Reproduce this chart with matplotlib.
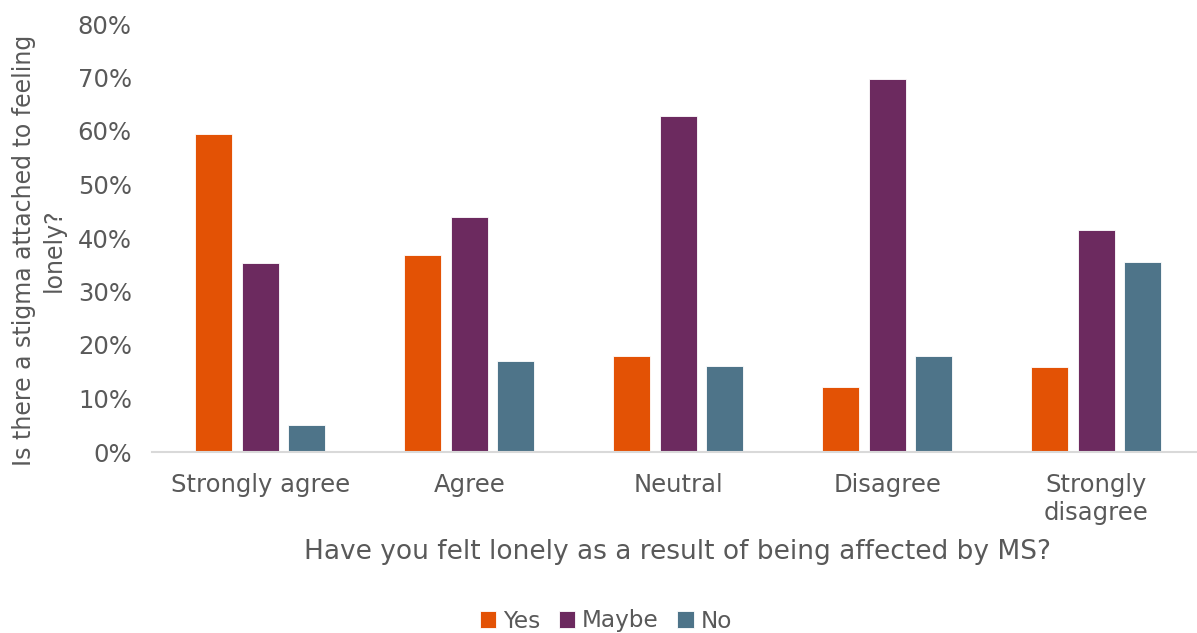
import matplotlib
matplotlib.use("Agg")
import matplotlib.pyplot as plt
import numpy as np

categories = ["Strongly agree", "Agree", "Neutral", "Disagree", "Strongly\ndisagree"]
yes_vals = [59.4, 36.9, 17.9, 12.1, 15.9]
maybe_vals = [35.3, 43.9, 62.8, 69.7, 41.5]
no_vals = [5.0, 17.0, 16.1, 17.9, 35.6]
series_names = ["Yes", "Maybe", "No"]
colors = ["#E35205", "#6C2A5F", "#4E7489"]
yticks = [0, 10, 20, 30, 40, 50, 60, 70, 80]

text_color = "#595959"
plt.rcParams["font.family"] = ["DejaVu Sans"]

fig = plt.figure(figsize=(11.97, 6.33), dpi=100)
ax = fig.add_axes([152 / 1197, 1 - 452 / 633, (1197 - 152) / 1197, (452 - 24) / 633])

x = np.arange(len(categories))
width = 0.177
offset = 0.2225
for i, (vals, name, c) in enumerate(zip([yes_vals, maybe_vals, no_vals], series_names, colors)):
    ax.bar(x + (i - 1) * offset, vals, width, color=c, label=name,
           edgecolor="white", linewidth=0.6)

ax.set_xlim(-0.519, 4.481)
ax.set_ylim(0, 80)
ax.set_yticks(yticks)
ax.set_yticklabels([f"{v}%" for v in yticks])
ax.set_xticks(x)
ax.set_xticklabels(categories, linespacing=1.2)
ax.tick_params(axis="both", length=0, colors=text_color, labelsize=17.5)
ax.tick_params(axis="y", pad=14.5)
ax.tick_params(axis="x", pad=15)

for s in ["top", "right", "left"]:
    ax.spines[s].set_visible(False)
ax.spines["bottom"].set_color("#D9D9D9")
ax.spines["bottom"].set_linewidth(1.5)

fig.text(38.5 / 1197, 1 - 250 / 633, "Is there a stigma attached to feeling\nlonely?",
         rotation=90, ha="center", va="center", fontsize=17, color=text_color,
         linespacing=1.3)
fig.text(678 / 1197, 1 - 552 / 633, "Have you felt lonely as a result of being affected by MS?",
         ha="center", va="center", fontsize=19, color=text_color)

fig.legend(loc="center", bbox_to_anchor=(606 / 1197, 1 - 621 / 633), ncol=3, frameon=False,
           fontsize=16.7, labelcolor=text_color, handlelength=0.7, handleheight=0.7,
           handletextpad=0.3, columnspacing=0.8)

fig.savefig("out.png", dpi=100, facecolor="white")
